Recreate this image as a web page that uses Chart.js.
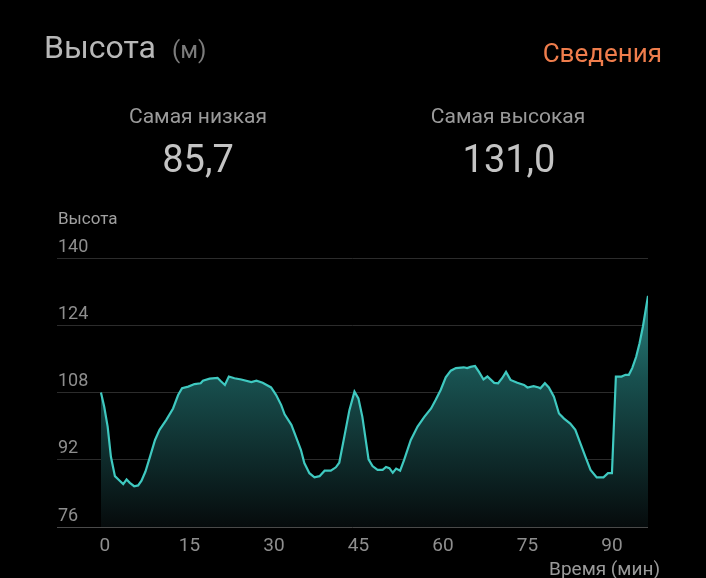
<!DOCTYPE html>
<html>
<head>
<meta charset="utf-8">
<script src="https://cdn.jsdelivr.net/npm/chart.js@4/dist/chart.umd.min.js"></script>
<style>
  html, body { margin:0; padding:0; background:#000; width:706px; height:578px; overflow:hidden; }
  body { font-family: Roboto, "Noto Sans", sans-serif; position:relative; }
  .t { position:absolute; white-space:nowrap; }
  #wrap { position:absolute; left:0; top:0; width:706px; height:578px; }
</style>
</head>
<body>
<div id="wrap"><canvas id="c" width="706" height="578"></canvas></div>
<div class="t" style="left:44px;top:31px;font-size:32px;line-height:32px;color:#b8b8b8;">Высота</div>
<div class="t" style="left:172px;top:38px;font-size:24px;line-height:24px;color:#7c7c7c;">(м)</div>
<div class="t" style="right:44px;top:40px;font-size:26px;line-height:26px;color:#ef7d4c;">Сведения</div>
<div class="t" style="left:98px;width:200px;text-align:center;top:106px;font-size:21px;line-height:21px;color:#9a9a9a;">Самая низкая</div>
<div class="t" style="left:98px;width:200px;text-align:center;top:140px;font-size:38px;line-height:38px;color:#c4c4c4;">85,7</div>
<div class="t" style="left:408px;width:200px;text-align:center;top:106px;font-size:21px;line-height:21px;color:#9a9a9a;">Самая высокая</div>
<div class="t" style="left:409px;width:200px;text-align:center;top:140px;font-size:38px;line-height:38px;color:#c4c4c4;">131,0</div>
<div class="t" style="left:58px;top:210px;font-size:17px;line-height:17px;color:#a0a0a0;">Высота</div>
<div class="t" style="right:46px;top:559px;font-size:19px;line-height:19px;color:#9a9a9a;">Время (мин)</div>
<script>
const times = [0,0.58,1.19,1.77,2.48,3.19,3.95,4.55,5.13,5.9,6.6,7.2,7.9,8.7,9.6,10.4,11.6,12.8,13.7,14.4,15.5,16.6,17.7,18.1,19.3,20.7,21.2,22.0,22.7,23.7,24.9,26.7,27.6,28.7,30.2,31.1,32.0,32.6,33.8,34.6,35.5,36.1,37.0,37.9,38.8,39.7,40.8,41.7,42.3,43.2,44.1,45.0,45.7,46.4,47.5,48.2,49.1,50.0,50.6,51.2,51.8,52.4,53.1,53.8,55.0,56.2,57.4,58.6,59.4,60.3,61.2,62.1,63.0,64.4,65.0,65.6,66.4,67.1,67.9,68.6,69.8,70.5,71.2,71.9,72.7,73.9,75.1,75.7,76.8,77.7,78.0,78.8,79.5,80.4,81.3,82.2,83.3,84.2,85.1,86.0,86.9,88.0,89.2,90.0,90.7,91.4,92.4,93.1,93.7,94.3,95.0,95.6,96.2,97.1];
const altitudes = [108.0,104.6,99.9,92.7,88.1,87.2,86.2,87.3,86.5,85.7,85.9,87.0,89.2,92.7,96.7,99.1,101.5,104.2,107.4,109.0,109.4,110.0,110.2,110.8,111.3,111.5,110.8,109.8,111.8,111.4,111.1,110.5,110.8,110.3,109.2,107.4,105.0,102.8,100.3,97.5,94.3,91.2,88.8,87.8,88.1,89.4,89.4,90.2,91.3,97.5,103.8,108.2,106.6,102.2,92.1,90.5,89.6,89.6,90.3,90.0,88.9,89.9,89.4,91.9,96.7,99.9,102.2,104.2,106.2,108.6,111.6,113.2,113.8,114.0,113.8,114.1,114.3,112.9,111.1,111.8,110.3,110.2,111.4,112.9,111.0,110.3,109.8,109.2,109.5,109.2,109.0,110.2,109.2,107.0,103.0,101.8,100.6,99.1,95.9,92.7,89.6,87.8,87.8,88.8,88.8,111.8,111.8,112.2,112.2,113.8,116.5,119.7,123.7,131.0];
const xTicks = [0,15,30,45,60,75,90];
const yTicks = [76,92,108,124,140];

const points = times.map((t,i)=>({x:t, y:altitudes[i]}));

new Chart(document.getElementById('c'), {
  type: 'line',
  data: { datasets: [{
    data: points,
    borderColor: '#3fc9c0',
    borderWidth: 2.2,
    pointRadius: 0,
    tension: 0,
    fill: 'start',
    backgroundColor: (ctx) => {
      const ca = ctx.chart.chartArea;
      if (!ca) return 'rgba(30,100,100,0.5)';
      const g = ctx.chart.ctx.createLinearGradient(0, ca.top + 40, 0, ca.bottom);
      g.addColorStop(0, 'rgb(40,128,125)');
      g.addColorStop(0.35, 'rgb(24,80,79)');
      g.addColorStop(1, 'rgb(6,11,12)');
      return g;
    }
  }]},
  options: {
    responsive: false,
    animation: false,
    devicePixelRatio: 1,
    layout: { padding: { left:57, right:58, top:258, bottom:21 } },
    plugins: { legend:{display:false}, tooltip:{enabled:false} },
    scales: {
      x: {
        type: 'linear',
        min: -7.8, max: 97.1,
        afterFit: s => { s.height = 30; },
        afterBuildTicks: s => { s.ticks = xTicks.map(v=>({value:v})); },
        grid: { display:false, drawTicks:false },
        border: { display:false },
        ticks: { color:'#8e8e8e', font:{family:'Roboto', size:19}, padding:8, labelOffset:4, maxRotation:0, autoSkip:false }
      },
      y: {
        min: 76, max: 140,
        afterFit: s => { s.width = 0; },
        afterBuildTicks: s => { s.ticks = yTicks.map(v=>({value:v})); },
        grid: { drawTicks:false, lineWidth:1, color: c => c.tick && c.tick.value === 76 ? '#4a4a4a' : '#2c2c2c' },
        border: { display:false },
        ticks: { mirror:true, padding:1, labelOffset:-11, color:'#8e8e8e', font:{family:'Roboto', size:18} }
      }
    }
  }
});
</script>
</body>
</html>
